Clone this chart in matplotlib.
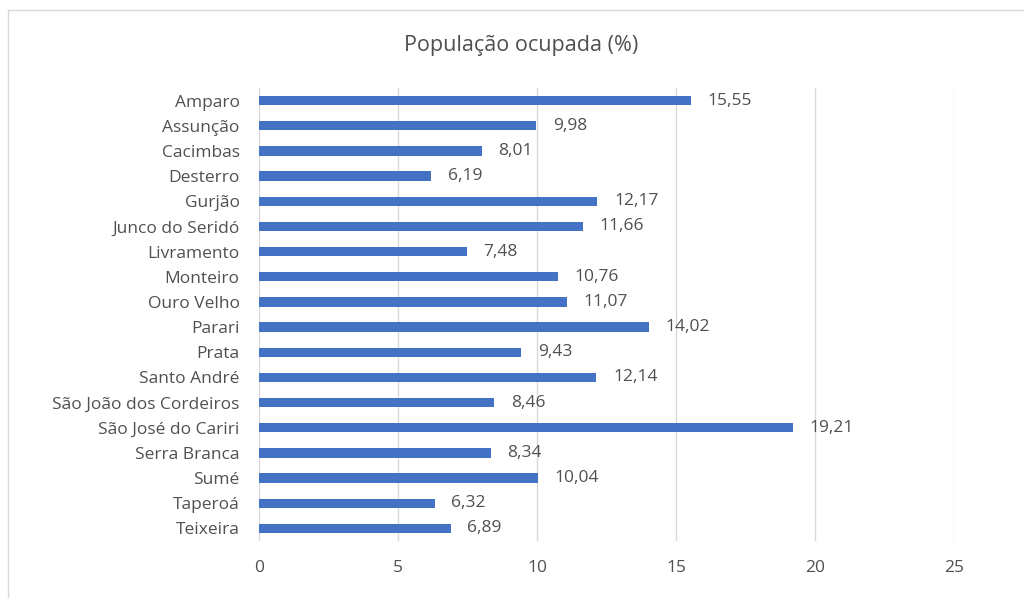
import matplotlib.pyplot as plt
from matplotlib.patches import Rectangle

# Municípios e percentual da população ocupada
municipios = ["Amparo", "Assunção", "Cacimbas", "Desterro", "Gurjão",
              "Junco do Seridó", "Livramento", "Monteiro", "Ouro Velho",
              "Parari", "Prata", "Santo André", "São João dos Cordeiros",
              "São José do Cariri", "Serra Branca", "Sumé", "Taperoá", "Teixeira"]
ocupada = [15.55, 9.98, 8.01, 6.19, 12.17, 11.66, 7.48, 10.76, 11.07,
           14.02, 9.43, 12.14, 8.46, 19.21, 8.34, 10.04, 6.32, 6.89]
xticks = [0, 5, 10, 15, 20, 25]

plt.rcParams['font.family'] = ['Open Sans', 'DejaVu Sans']
cor_texto = '#505050'
cor_barra = '#4472C4'

fig = plt.figure(figsize=(10.24, 5.98), dpi=100)
ax = fig.add_axes([0.2529, 0.0953, 0.6787, 0.7575])

# moldura clara do gráfico
fig.patches.append(Rectangle((8 / 1024, -0.05), 1.2, 1 - 10 / 598 + 0.05,
                             transform=fig.transFigure, fill=False,
                             edgecolor='#d9d9d9', linewidth=1.0))

pos = list(range(len(municipios)))
ax.barh(pos, ocupada, height=0.37, color=cor_barra, zorder=3)
ax.set_ylim(len(municipios) - 0.5, -0.5)
ax.set_xlim(0, 25)
ax.set_yticks(pos)
ax.set_yticklabels(municipios)
ax.set_xticks(xticks)
ax.set_xticklabels([str(t) for t in xticks])

for p, v in zip(pos, ocupada):
    ax.annotate(f"{v:.2f}".replace('.', ','), (v, p), xytext=(12, 0),
                textcoords='offset points', va='center', ha='left',
                fontsize=12.5, color=cor_texto)

ax.grid(axis='x', color='#d9d9d9', linewidth=1.0, zorder=0)
for s in ax.spines.values():
    s.set_visible(False)
ax.tick_params(axis='both', length=0, colors=cor_texto, labelsize=12.5)
ax.tick_params(axis='x', pad=14)
ax.tick_params(axis='y', pad=14)

fig.text(521 / 1024, 1 - 46 / 598, "População ocupada (%)", ha='center',
         va='center', fontsize=15.5, color=cor_texto)

fig.savefig('out.png', dpi=100)
